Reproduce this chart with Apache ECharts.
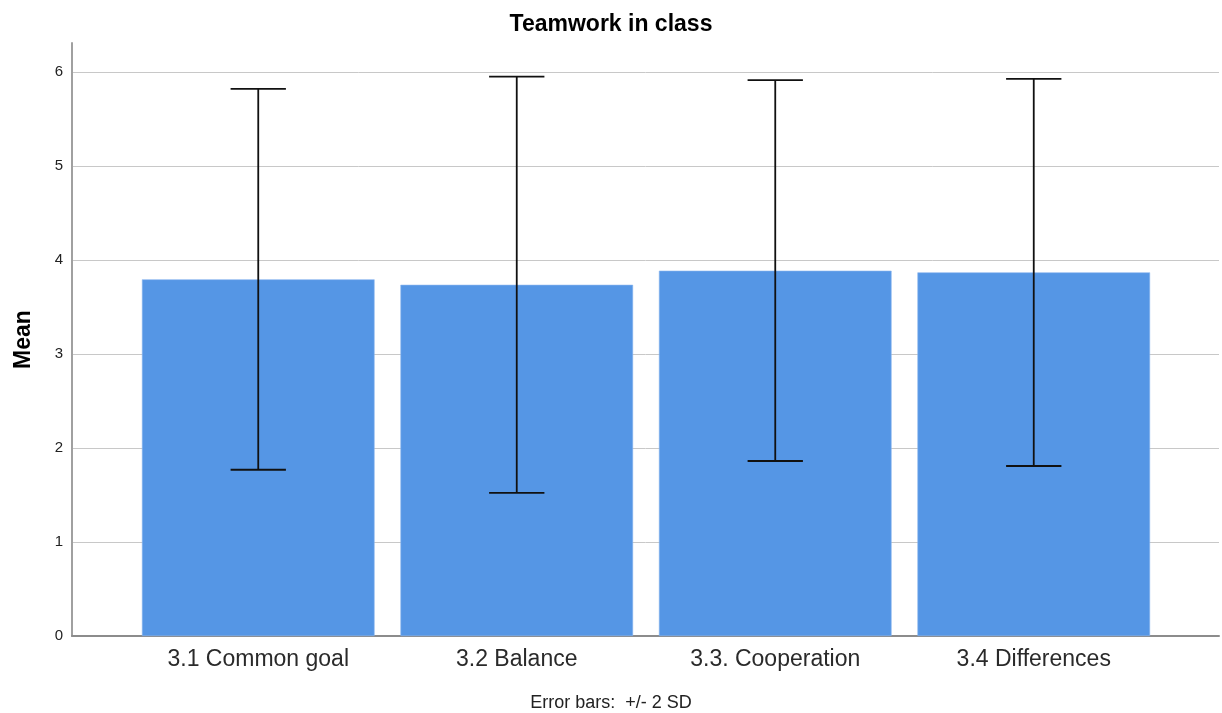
<!DOCTYPE html>
<html>
<head>
<meta charset="utf-8">
<script src="https://cdn.jsdelivr.net/npm/echarts@6/dist/echarts.min.js"></script>
<style>
html,body{margin:0;padding:0;background:#fff;}
#chart{width:1222px;height:713px;}
</style>
</head>
<body>
<div id="chart"></div>
<script>
// Data
const categories = ['3.1 Common goal', '3.2 Balance', '3.3. Cooperation', '3.4 Differences'];
const means = [3.795, 3.737, 3.887, 3.869];
const lowerBounds = [1.769, 1.524, 1.862, 1.809];   // mean - 2 SD
const upperBounds = [5.822, 5.952, 5.915, 5.929];   // mean + 2 SD
const yTicks = [0, 1, 2, 3, 4, 5, 6];

const FONT = '"Liberation Sans", Arial, sans-serif';
const Y_MAX = 6.31;

const chart = echarts.init(document.getElementById('chart'), null, {renderer: 'canvas'});

const errorData = categories.map((c, i) => [i, lowerBounds[i], upperBounds[i]]);

const option = {
  backgroundColor: '#ffffff',
  animation: false,
  title: [
    {
      text: 'Teamwork in class',
      left: 'center',
      top: 8,
      textStyle: {fontFamily: FONT, fontSize: 23, fontWeight: 'bold', color: '#000'}
    },
    {
      text: 'Error bars:  +/- 2 SD',
      left: 'center',
      bottom: -4,
      textStyle: {fontFamily: FONT, fontSize: 18, fontWeight: 'normal', color: '#222'}
    }
  ],
  grid: [
    {left: 72, right: 3, top: 43, bottom: 77, containLabel: false},
    {left: 129, right: 59, top: 43, bottom: 77, containLabel: false}
  ],
  xAxis: [
    {
      type: 'value', gridIndex: 0, min: 0, max: 1,
      axisLine: {show: true, lineStyle: {color: '#8c8c8c', width: 2}},
      axisTick: {show: false}, axisLabel: {show: false}, splitLine: {show: false}
    },
    {
      type: 'category', gridIndex: 1, data: categories,
      axisLine: {show: false}, axisTick: {show: false},
      axisLabel: {fontFamily: FONT, fontSize: 23, color: '#2a2a2a', margin: 12}
    }
  ],
  yAxis: [
    {
      type: 'value', gridIndex: 0, min: 0, max: Y_MAX, interval: 1,
      name: 'Mean', nameLocation: 'middle', nameGap: 37, nameRotate: 90,
      nameTextStyle: {fontFamily: FONT, fontSize: 23, fontWeight: 'bold', color: '#000'},
      axisLine: {show: true, lineStyle: {color: '#a0a0a0', width: 2}},
      axisTick: {show: false},
      axisLabel: {
        fontFamily: FONT, fontSize: 15, color: '#222', margin: 9, showMaxLabel: false,
        formatter: v => (yTicks.indexOf(v) >= 0 ? String(v) : '')
      },
      splitLine: {
        show: true, showMaxLine: false,
        lineStyle: {color: ['#c8c8c8','#c8c8c8','#c8c8c8','#c8c8c8','#c8c8c8','#c8c8c8','#c8c8c8','rgba(0,0,0,0)'], width: 1}
      }
    },
    {
      type: 'value', gridIndex: 1, min: 0, max: Y_MAX, interval: 1, show: false
    }
  ],
  series: [
    {
      type: 'bar', xAxisIndex: 1, yAxisIndex: 1,
      data: means,
      barCategoryGap: '10%',
      itemStyle: {color: '#5596e5', borderColor: '#8ab6ee', borderWidth: 0.6},
      z: 2
    },
    {
      type: 'custom', xAxisIndex: 1, yAxisIndex: 1,
      data: errorData,
      z: 5,
      renderItem: function (params, api) {
        const x = api.value(0);
        const lo = api.coord([x, api.value(1)]);
        const hi = api.coord([x, api.value(2)]);
        const half = api.size([1, 0])[0] * 0.107;
        const style = {stroke: '#111', lineWidth: 1.8};
        return {
          type: 'group',
          children: [
            {type: 'line', shape: {x1: hi[0], y1: hi[1], x2: lo[0], y2: lo[1]}, style: style},
            {type: 'line', shape: {x1: hi[0] - half, y1: hi[1], x2: hi[0] + half, y2: hi[1]}, style: style},
            {type: 'line', shape: {x1: lo[0] - half, y1: lo[1], x2: lo[0] + half, y2: lo[1]}, style: style}
          ]
        };
      }
    }
  ]
};

chart.setOption(option);
</script>
</body>
</html>
